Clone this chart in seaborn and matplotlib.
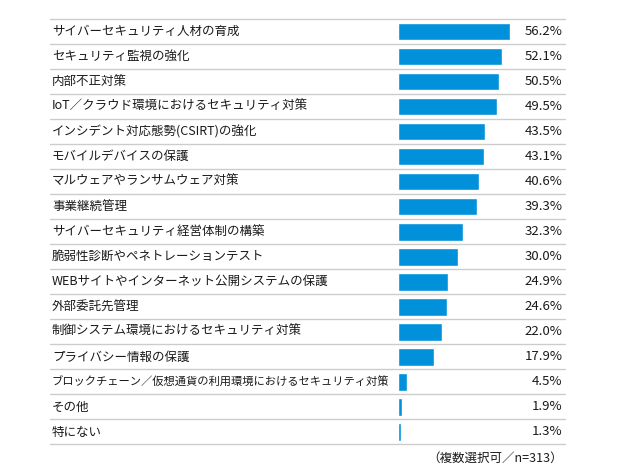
import matplotlib
matplotlib.use("Agg")
import matplotlib.pyplot as plt
import matplotlib.transforms as mtransforms
from matplotlib.lines import Line2D
import seaborn as sns
import pandas as pd

categories = [
    "サイバーセキュリティ人材の育成",
    "セキュリティ監視の強化",
    "内部不正対策",
    "IoT／クラウド環境におけるセキュリティ対策",
    "インシデント対応態勢(CSIRT)の強化",
    "モバイルデバイスの保護",
    "マルウェアやランサムウェア対策",
    "事業継続管理",
    "サイバーセキュリティ経営体制の構築",
    "脆弱性診断やペネトレーションテスト",
    "WEBサイトやインターネット公開システムの保護",
    "外部委託先管理",
    "制御システム環境におけるセキュリティ対策",
    "プライバシー情報の保護",
    "ブロックチェーン／仮想通貨の利用環境におけるセキュリティ対策",
    "その他",
    "特にない",
]
values = [56.2, 52.1, 50.5, 49.5, 43.5, 43.1, 40.6, 39.3, 32.3, 30.0,
          24.9, 24.6, 22.0, 17.9, 4.5, 1.9, 1.3]
value_labels = ["56.2%", "52.1%", "50.5%", "49.5%", "43.5%", "43.1%", "40.6%",
                "39.3%", "32.3%", "30.0%", "24.9%", "24.6%", "22.0%", "17.9%",
                "4.5%", "1.9%", "1.3%"]
footnote = "（複数選択可／n=313）"

sns.set_style("white")
plt.rcParams["font.family"] = ["Noto Sans CJK JP", "DejaVu Sans"]

W, H = 632, 467
fig = plt.figure(figsize=(W / 100, H / 100), dpi=100)
fig.patch.set_facecolor("white")

top_px, bot_px = 19.0, 444.5
ax = fig.add_axes([398 / W, (H - bot_px) / H, 200 / W, (bot_px - top_px) / H])

df = pd.DataFrame({"cat": categories, "val": values})
sns.barplot(data=df, x="val", y="cat", orient="h", color="#0091DA",
            saturation=1, width=0.7, ax=ax)
n = len(categories)
ax.set_xlim(0, 100)
ax.set_ylim(n - 0.5, -0.5)
ax.axis("off")

trans = mtransforms.blended_transform_factory(fig.transFigure, ax.transData)
renderer = fig.canvas.get_renderer()
label_left, label_max_right = 52.0, 391.0
for i, (c, lab) in enumerate(zip(categories, value_labels)):
    t = ax.text(label_left / W, i, c, transform=trans, ha="left", va="center",
                fontsize=9, color="#1a1a1a", clip_on=False)
    bb = t.get_window_extent(renderer=renderer)
    if bb.x1 > label_max_right:
        t.set_fontsize(9 * (label_max_right - label_left) / (bb.x1 - label_left))
    ax.text(562.5 / W, i, lab, transform=trans, ha="right", va="center",
            fontsize=9.5, color="#1a1a1a", clip_on=False)

for k in range(n + 1):
    y = k - 0.5
    ax.add_line(Line2D([50 / W, 565 / W], [y, y], transform=trans,
                       color="#cccccc", lw=1.0, clip_on=False))

fig.text(562.5 / W, (H - 458) / H, footnote, ha="right", va="center",
         fontsize=9, color="#1a1a1a")

fig.savefig("out.png", dpi=100, facecolor="white")
